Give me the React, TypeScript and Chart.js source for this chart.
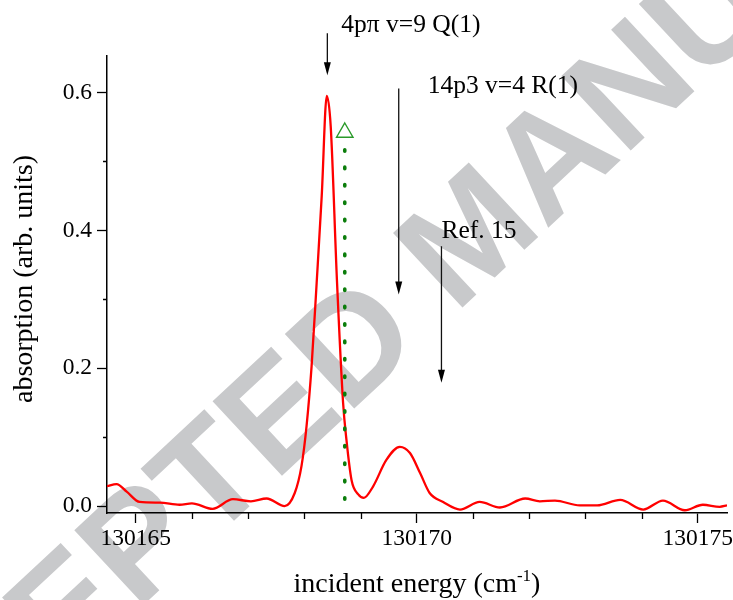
import { useEffect, useRef } from "react";
import { Chart, registerables } from "chart.js";

Chart.register(...registerables);

// Absorption spectrum (incident energy in cm^-1, absorption in arb. units)
const energy = [
  130164.49, 130164.66, 130164.84, 130165.07, 130165.43, 130165.78, 130166.0, 130166.37,
  130166.73, 130167.05, 130167.33, 130167.65, 130167.83, 130167.95, 130168.04, 130168.13,
  130168.22, 130168.31, 130168.4, 130168.47, 130168.58, 130168.69, 130168.75, 130168.84,
  130168.96, 130169.06, 130169.22, 130169.46, 130169.7, 130169.88, 130170.06, 130170.23,
  130170.47, 130170.77, 130171.12, 130171.48, 130171.93, 130172.19, 130172.46, 130172.9,
  130173.21, 130173.62, 130174.03, 130174.38, 130174.77, 130175.09, 130175.39, 130175.52,
];
const absorption = [
  0.029, 0.032, 0.021, 0.006, 0.005, 0.002, 0.004, -0.004,
  0.01, 0.007, 0.011, 0.0, 0.019, 0.058, 0.116, 0.203,
  0.324, 0.45, 0.595, 0.551, 0.329, 0.15, 0.096, 0.038,
  0.017, 0.012, 0.028, 0.067, 0.086, 0.077, 0.048, 0.019,
  0.006, -0.005, 0.006, -0.002, 0.011, 0.007, 0.008, 0.001,
  0.001, 0.009, -0.005, 0.008, -0.006, 0.002, -0.001, 0.001,
];

// Calculated line position (dotted stick with triangle marker)
const calcEnergy = 130168.72;
const calcStick = [0.517, 0.01];
const calcMarker = 0.542;

// Axis ranges and ticks
const xRange = [130164.49, 130175.52];
const yRange = [-0.01, 0.653];
const xMajorTicks = [130165, 130170, 130175];
const xMinorTicks = [130166, 130167, 130168, 130169, 130171, 130172, 130173, 130174];
const yMajorTicks = [0.0, 0.2, 0.4, 0.6];
const yMinorTicks = [0.1, 0.3, 0.5];

// Assignment arrows
const arrowLabels = ["4pπ v=9 Q(1)", "14p3 v=4 R(1)", "Ref. 15"];
const arrowEnergy = [130168.41, 130169.68, 130170.44];
const arrowTop = [0.686, 0.606, 0.377];
const arrowTip = [0.625, 0.307, 0.179];
// label placement relative to the arrow's top end (px)
const labelDx = [14, 29, 0];
const labelDy = [-1, 5, -8];

const SERIF = '"Liberation Serif", "Times New Roman", Times, serif';
const SANS = '"Liberation Sans", Arial, Helvetica, sans-serif';

const watermarkPlugin = {
  id: "watermark",
  beforeDraw(chart: any) {
    const ctx: CanvasRenderingContext2D = chart.ctx;
    const size = 148;
    ctx.save();
    ctx.font = `bold ${size}px ${SANS}`;
    const lead = ctx.measureText("ACCEPTE").width + ctx.measureText("D").width / 2;
    ctx.translate(350, 340);
    ctx.rotate((-43 * Math.PI) / 180);
    ctx.fillStyle = "rgb(200,201,203)";
    ctx.textAlign = "left";
    ctx.textBaseline = "alphabetic";
    ctx.fillText("ACCEPTED MANUSCRIPT", -lead, 0.358 * size);
    ctx.restore();
  },
};

const decorPlugin = {
  id: "decor",
  afterDraw(chart: any) {
    const ctx: CanvasRenderingContext2D = chart.ctx;
    const { x, y } = chart.scales;
    const area = chart.chartArea;
    ctx.save();

    // minor ticks
    ctx.strokeStyle = "#000";
    ctx.lineWidth = 1.3;
    ctx.beginPath();
    for (const v of xMinorTicks) {
      const px = Math.round(x.getPixelForValue(v)) + 0.5;
      ctx.moveTo(px, area.bottom);
      ctx.lineTo(px, area.bottom + 6);
    }
    for (const v of yMinorTicks) {
      const py = Math.round(y.getPixelForValue(v)) + 0.5;
      ctx.moveTo(area.left - 4, py);
      ctx.lineTo(area.left, py);
    }
    ctx.stroke();

    // arrows with labels
    ctx.fillStyle = "#000";
    ctx.font = `25.5px ${SERIF}`;
    ctx.textAlign = "left";
    ctx.textBaseline = "alphabetic";
    arrowLabels.forEach((label, i) => {
      const px = x.getPixelForValue(arrowEnergy[i]);
      const top = y.getPixelForValue(arrowTop[i]);
      const tip = y.getPixelForValue(arrowTip[i]);
      const head = 13;
      ctx.strokeStyle = "#111";
      ctx.lineWidth = 1.3;
      ctx.beginPath();
      ctx.moveTo(px, top);
      ctx.lineTo(px, tip - head + 2);
      ctx.stroke();
      ctx.beginPath();
      ctx.moveTo(px, tip);
      ctx.lineTo(px - 3.5, tip - head);
      ctx.lineTo(px + 3.5, tip - head);
      ctx.closePath();
      ctx.fill();
      ctx.fillText(label, px + labelDx[i], top + labelDy[i]);
    });

    // y-axis title
    ctx.save();
    ctx.translate(32, 279);
    ctx.rotate(-Math.PI / 2);
    ctx.font = `28px ${SERIF}`;
    ctx.textAlign = "center";
    ctx.fillText("absorption (arb. units)", 0, 0);
    ctx.restore();

    // x-axis title with superscript
    const main = "incident energy (cm";
    const sup = "-1";
    const close = ")";
    ctx.font = `28px ${SERIF}`;
    const wMain = ctx.measureText(main).width;
    const wClose = ctx.measureText(close).width;
    ctx.font = `17px ${SERIF}`;
    const wSup = ctx.measureText(sup).width;
    const total = wMain + wSup + wClose;
    const cx = (area.left + area.right) / 2;
    let sx = cx - total / 2;
    const base = 592;
    ctx.textAlign = "left";
    ctx.font = `28px ${SERIF}`;
    ctx.fillText(main, sx, base);
    sx += wMain;
    ctx.font = `17px ${SERIF}`;
    ctx.fillText(sup, sx, base - 11);
    sx += wSup;
    ctx.font = `28px ${SERIF}`;
    ctx.fillText(close, sx, base);

    ctx.restore();
  },
};

export default function App() {
  const canvasRef = useRef<HTMLCanvasElement | null>(null);

  useEffect(() => {
    document.body.style.margin = "0";
    const canvas = canvasRef.current;
    if (!canvas) return;

    const chart = new Chart(canvas, {
      type: "line",
      data: {
        datasets: [
          {
            data: calcStick.map((v) => ({ x: calcEnergy, y: v })),
            borderColor: "#0b7d0b",
            borderWidth: 3.6,
            borderDash: [1.5, 15.9],
            borderCapStyle: "round",
            pointRadius: 0,
            fill: false,
          },
          {
            data: [{ x: calcEnergy, y: calcMarker }],
            showLine: false,
            pointStyle: "triangle",
            pointRadius: 9.5,
            pointBorderColor: "#2a9a2a",
            pointBackgroundColor: "rgba(0,0,0,0)",
            pointBorderWidth: 1.4,
          },
          {
            data: energy.map((e, i) => ({ x: e, y: absorption[i] })),
            borderColor: "#ff0000",
            borderWidth: 2.3,
            pointRadius: 0,
            cubicInterpolationMode: "monotone",
            fill: false,
          },
        ],
      },
      options: {
        responsive: false,
        animation: false,
        devicePixelRatio: 1,
        layout: { autoPadding: false, padding: { top: 56, right: 6, left: 0, bottom: 0 } },
        plugins: {
          legend: { display: false },
          tooltip: { enabled: false },
        },
        scales: {
          x: {
            type: "linear",
            min: xRange[0],
            max: xRange[1],
            afterFit: (s: any) => {
              s.height = 87;
              s.paddingLeft = 0;
              s.paddingRight = 0;
            },
            afterBuildTicks: (s: any) => {
              s.ticks = xMajorTicks.map((v) => ({ value: v }));
            },
            grid: {
              display: true,
              drawOnChartArea: false,
              drawTicks: true,
              tickLength: 10,
              tickColor: "#000",
              tickWidth: 1.3,
            },
            border: { display: true, color: "#000", width: 1.5 },
            ticks: {
              color: "#000",
              font: { family: SERIF, size: 23.5 },
              padding: 2,
              maxRotation: 0,
              autoSkip: false,
              callback: (v: any) => String(v),
            },
          },
          y: {
            type: "linear",
            min: yRange[0],
            max: yRange[1],
            afterFit: (s: any) => {
              s.width = 107;
              s.paddingTop = 0;
              s.paddingBottom = 0;
            },
            afterBuildTicks: (s: any) => {
              s.ticks = yMajorTicks.map((v) => ({ value: v }));
            },
            grid: {
              display: true,
              drawOnChartArea: false,
              drawTicks: true,
              tickLength: 10,
              tickColor: "#000",
              tickWidth: 1.3,
            },
            border: { display: true, color: "#000", width: 1.5 },
            ticks: {
              color: "#000",
              font: { family: SERIF, size: 23.5 },
              padding: 5,
              callback: (v: any) => Number(v).toFixed(1),
            },
          },
        },
      },
      plugins: [watermarkPlugin, decorPlugin],
    } as any);

    return () => chart.destroy();
  }, []);

  return (
    <div style={{ width: 733, height: 600, background: "#fff" }}>
      <canvas ref={canvasRef} width={733} height={600} style={{ display: "block" }} />
    </div>
  );
}
